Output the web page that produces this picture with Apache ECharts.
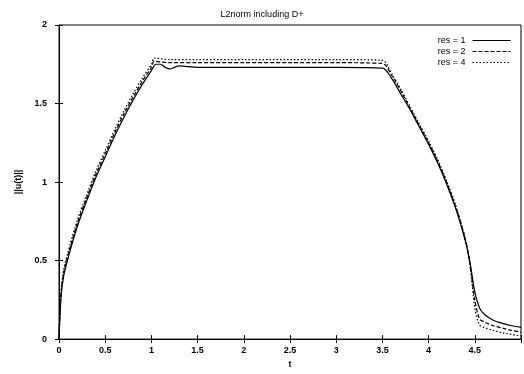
<!DOCTYPE html>
<html><head><meta charset="utf-8">
<script src="https://cdn.jsdelivr.net/npm/echarts@6/dist/echarts.min.js"></script>
<style>html,body{margin:0;padding:0;background:#fff}#c{width:524px;height:374px}</style>
</head><body><div id="c"></div>
<script>
const titleText = 'L2norm including D+';
const xLabel = 't';
const yLabel = '||u(t)||';
const seriesNames = ['res = 1', 'res = 2', 'res = 4'];

const t1 = [0, 0.02, 0.05, 0.1, 0.2, 0.3, 0.4, 0.5, 0.6, 0.7, 0.8, 0.9, 1.0, 1.05, 1.1, 1.15, 1.2, 1.25, 1.3, 1.4, 1.5, 2.0, 2.5, 3.0, 3.5, 3.6, 3.7, 3.8, 3.9, 4.0, 4.1, 4.2, 4.3, 4.4, 4.45, 4.5, 4.55, 4.6, 4.7, 4.8, 4.9, 5.0];
const res1 = [0, 0.25, 0.4, 0.52, 0.72, 0.88, 1.03, 1.16, 1.29, 1.41, 1.52, 1.62, 1.71, 1.75, 1.75, 1.73, 1.72, 1.73, 1.74, 1.735, 1.73, 1.73, 1.73, 1.73, 1.725, 1.66, 1.56, 1.46, 1.35, 1.24, 1.12, 0.98, 0.82, 0.62, 0.48, 0.3, 0.2, 0.16, 0.12, 0.1, 0.085, 0.075];

const t2 = [0, 0.02, 0.05, 0.1, 0.2, 0.3, 0.4, 0.5, 0.6, 0.7, 0.8, 0.9, 1.0, 1.03, 1.1, 1.2, 1.5, 2.0, 2.5, 3.0, 3.5, 3.6, 3.7, 3.8, 3.9, 4.0, 4.1, 4.2, 4.3, 4.4, 4.45, 4.5, 4.55, 4.6, 4.7, 4.8, 4.9, 5.0];
const res2 = [0, 0.27, 0.42, 0.54, 0.74, 0.9, 1.05, 1.18, 1.31, 1.43, 1.54, 1.64, 1.73, 1.77, 1.765, 1.76, 1.76, 1.76, 1.76, 1.76, 1.755, 1.68, 1.58, 1.47, 1.36, 1.25, 1.13, 0.99, 0.83, 0.63, 0.47, 0.25, 0.13, 0.11, 0.085, 0.07, 0.055, 0.045];

const t4 = [0, 0.02, 0.05, 0.1, 0.2, 0.3, 0.4, 0.5, 0.6, 0.7, 0.8, 0.9, 1.0, 1.03, 1.1, 1.2, 1.5, 2.0, 2.5, 3.0, 3.5, 3.6, 3.7, 3.8, 3.9, 4.0, 4.1, 4.2, 4.3, 4.4, 4.45, 4.5, 4.55, 4.6, 4.7, 4.8, 4.9, 5.0];
const res4 = [0, 0.29, 0.44, 0.56, 0.76, 0.92, 1.07, 1.2, 1.33, 1.45, 1.56, 1.66, 1.75, 1.79, 1.785, 1.78, 1.78, 1.78, 1.78, 1.78, 1.775, 1.69, 1.59, 1.48, 1.37, 1.26, 1.14, 1.0, 0.84, 0.63, 0.46, 0.2, 0.09, 0.075, 0.055, 0.04, 0.03, 0.02];

const xTicks = [0, 0.5, 1, 1.5, 2, 2.5, 3, 3.5, 4, 4.5];

const pair = (ts, vs) => ts.map((t, i) => [t, vs[i]]);
const font = 'Liberation Sans';
const lab = {color: '#000', fontSize: 9, fontFamily: font, fontWeight: 'bold'};

const chart = echarts.init(document.getElementById('c'), null, {renderer: 'canvas'});
chart.setOption({
  animation: false,
  backgroundColor: '#fff',
  title: {text: titleText, left: 'center', top: 5, textStyle: {fontSize: 9, fontWeight: 'normal', color: '#000', fontFamily: font}},
  legend: {
    right: 8, top: 31, orient: 'vertical', align: 'right', itemGap: 2, itemWidth: 38, itemHeight: 8,
    itemStyle: {opacity: 0},
    lineStyle: {width: 1},
    textStyle: {fontSize: 9, color: '#000', fontFamily: font, fontWeight: 'normal', padding: [0, 2, 0, 0]},
    data: seriesNames
  },
  grid: {left: 59, right: 2, top: 25, bottom: 34, show: true, borderColor: '#000', borderWidth: 1},
  xAxis: [{
    type: 'value', min: 0, max: 5, interval: 0.5,
    name: xLabel, nameLocation: 'middle', nameGap: 18, nameTextStyle: lab,
    axisLine: {show: true, lineStyle: {color: '#000'}},
    axisTick: {inside: true, length: 4, lineStyle: {color: '#000'}},
    axisLabel: Object.assign({margin: 7, formatter: v => xTicks.includes(v) ? String(v) : ''}, lab),
    splitLine: {show: false}
  }, {
    type: 'value', min: 0, max: 5, interval: 0.5, position: 'top',
    axisLine: {show: true, lineStyle: {color: '#000'}},
    axisTick: {inside: true, length: 4, lineStyle: {color: '#000'}},
    axisLabel: {show: false}, splitLine: {show: false}
  }],
  yAxis: [{
    type: 'value', min: 0, max: 2, interval: 0.5,
    name: yLabel, nameLocation: 'middle', nameGap: 36, nameRotate: 90, nameTextStyle: lab,
    axisLine: {show: true, lineStyle: {color: '#000'}},
    axisTick: {inside: true, length: 4, lineStyle: {color: '#000'}},
    axisLabel: Object.assign({margin: 12}, lab),
    splitLine: {show: false}
  }, {
    type: 'value', min: 0, max: 2, interval: 0.5, position: 'right',
    axisLine: {show: true, lineStyle: {color: '#000'}},
    axisTick: {inside: true, length: 4, lineStyle: {color: '#000'}},
    axisLabel: {show: false}, splitLine: {show: false}
  }],
  series: [
    {name: seriesNames[0], type: 'line', data: pair(t1, res1), showSymbol: false, symbol: 'none', smooth: 0.3,
     lineStyle: {color: '#000', width: 1.2, type: 'solid'}, itemStyle: {color: '#000'}},
    {name: seriesNames[1], type: 'line', data: pair(t2, res2), showSymbol: false, symbol: 'none', smooth: 0.3,
     lineStyle: {color: '#000', width: 1.2, type: [4, 2]}, itemStyle: {color: '#000'}},
    {name: seriesNames[2], type: 'line', data: pair(t4, res4), showSymbol: false, symbol: 'none', smooth: 0.3,
     lineStyle: {color: '#000', width: 1.2, type: [1.5, 2]}, itemStyle: {color: '#000'}}
  ]
});
</script></body></html>
